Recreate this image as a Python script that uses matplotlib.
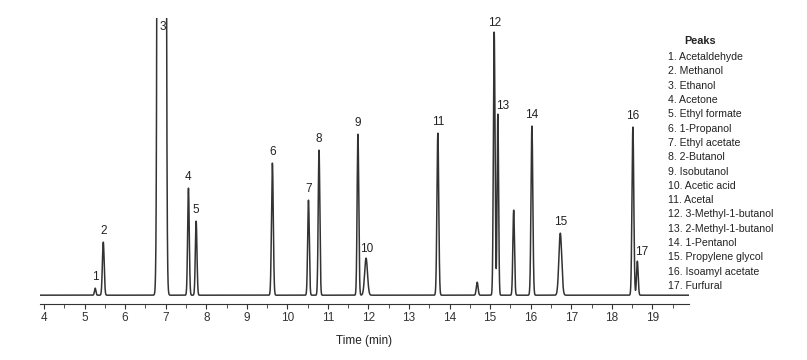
import numpy as np
import matplotlib.pyplot as plt

plt.rcParams['font.family'] = ['Liberation Sans', 'DejaVu Sans']

# retention times (min), heights (arbitrary units), widths (sigma, min)
rt = [5.26, 5.46, 6.90, 7.56, 7.75, 9.63, 10.52, 10.78, 11.74, 11.94,
      13.71, 14.68, 15.10, 15.19, 15.58, 16.03, 16.73, 18.52, 18.63]
height = [7, 53, 30000, 107, 74, 132, 95, 145, 161, 37,
          162, 13, 263, 181, 85, 169, 62, 168, 34]
sigma = [0.018, 0.022, 0.04, 0.02, 0.02, 0.022, 0.02, 0.02, 0.02, 0.035,
         0.022, 0.022, 0.02, 0.018, 0.02, 0.022, 0.035, 0.022, 0.02]
peak_no = ['1', '2', '3', '4', '5', '6', '7', '8', '9', '10',
           '11', '', '12', '13', '', '14', '15', '16', '17']

compounds = ['Acetaldehyde', 'Methanol', 'Ethanol', 'Acetone', 'Ethyl formate',
             '1-Propanol', 'Ethyl acetate', '2-Butanol', 'Isobutanol',
             'Acetic acid', 'Acetal', '3-Methyl-1-butanol', '2-Methyl-1-butanol',
             '1-Pentanol', 'Propylene glycol', 'Isoamyl acetate', 'Furfural']

t = np.linspace(3.9, 19.9, 8000)
signal = np.zeros_like(t)
for r, h, s in zip(rt, height, sigma):
    signal += h * np.exp(-0.5 * ((t - r) / s) ** 2)

fig = plt.figure(figsize=(8.07, 3.6), dpi=100)
ax = fig.add_axes([0.0496, 0.155, 0.804, 0.795])
ax.plot(t, signal, color='#333333', lw=1.1)
ax.set_xlim(3.9, 19.9)
ax.set_ylim(-9, 277)

# peak numbers
for r, h, lab in zip(rt, height, peak_no):
    if not lab:
        continue
    x, y = r, min(h, 277) + 5
    if lab == '3':
        x, y = 6.93, 262
    elif lab == '12':
        y = h + 3
    elif lab == '13':
        x, y = r + 0.12, h + 2
    elif lab == '10':
        x, y = r + 0.02, h + 3
    elif lab == '17':
        x, y = r + 0.1, h + 3
    ax.text(x, y, lab, ha='center', va='bottom', fontsize=8.5, color='#222222')

for side in ['left', 'right', 'top']:
    ax.spines[side].set_visible(False)
ax.spines['bottom'].set_color('#333333')
ax.set_yticks([])
ax.set_xticks(range(4, 20))
ax.set_xticks(np.arange(4.5, 20, 1.0), minor=True)
ax.tick_params(axis='x', which='major', length=3.5, labelsize=8.5, colors='#333333', pad=2)
ax.tick_params(axis='x', which='minor', length=3, colors='#333333')
ax.set_xlabel('Time (min)', fontsize=8.5, color='#222222', labelpad=8)

# peak list
fig.text(0.868, 0.885, 'Peaks', fontsize=7.8, fontweight='bold', ha='center', va='center', color='#222222')
for i, name in enumerate(compounds):
    fig.text(0.828, 0.842 - i * 0.0398, '%d. %s' % (i + 1, name),
             fontsize=7.6, ha='left', va='center', color='#222222')

fig.savefig('out.png', dpi=100)
